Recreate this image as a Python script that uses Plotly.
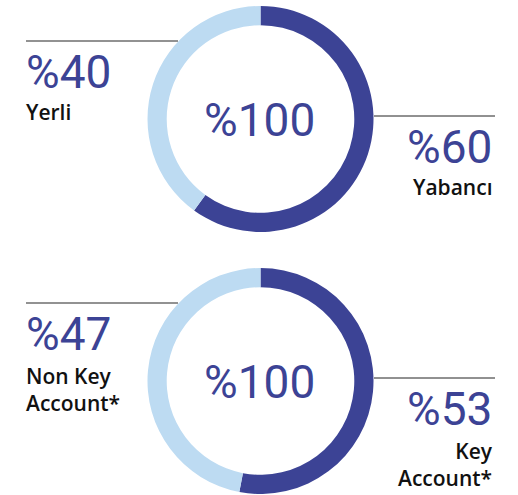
import plotly.graph_objects as go

# Data
top_labels = ["Yabancı", "Yerli"]
top_values = [60, 40]
bottom_labels = ["Key<br>Account*", "Non Key<br>Account*"]
bottom_values = [53, 47]
total_label = "%100"

DARK = "#3c4395"
LIGHT = "#bddbf2"
W, H = 518, 495

NUM_FONT = dict(family="Roboto, sans-serif", color=DARK, size=46)
LBL_FONT = dict(family="Open Sans, sans-serif", color="#111111", size=21, weight=600)


def px(x):
    return x / W


def py(y):
    return 1 - y / H


fig = go.Figure()

fig.add_trace(go.Pie(
    labels=top_labels, values=top_values, hole=0.83, sort=False,
    direction="clockwise", rotation=0, textinfo="none", hoverinfo="label+value",
    marker=dict(colors=[DARK, LIGHT], line=dict(width=0)),
    domain=dict(x=[px(147.5), px(373.5)], y=[py(232), py(6)]),
    showlegend=False,
))
fig.add_trace(go.Pie(
    labels=bottom_labels, values=bottom_values, hole=0.83, sort=False,
    direction="clockwise", rotation=0, textinfo="none", hoverinfo="label+value",
    marker=dict(colors=[DARK, LIGHT], line=dict(width=0)),
    domain=dict(x=[px(147.5), px(373.5)], y=[py(494), py(268)]),
    showlegend=False,
))

shapes = []
for y in (41, 303):
    shapes.append(dict(type="line", xref="paper", yref="paper", x0=px(26), x1=px(178),
                       y0=py(y), y1=py(y), line=dict(color="#6e6e6e", width=1.5)))
for y in (116, 378):
    shapes.append(dict(type="line", xref="paper", yref="paper", x0=px(374), x1=px(495),
                       y0=py(y), y1=py(y), line=dict(color="#222222", width=1)))

ann = []


def add(text, x, y, xanchor, font, align="left"):
    ann.append(dict(text=text, x=px(x), y=py(y), xref="paper", yref="paper",
                    xanchor=xanchor, yanchor="middle", showarrow=False, font=font,
                    align=align))


# centers
add(total_label, 259, 120, "center", NUM_FONT)
add(total_label, 259, 382, "center", NUM_FONT)
# top
add("%" + str(top_values[1]), 24, 72, "left", NUM_FONT)
add(top_labels[1], 24, 112, "left", LBL_FONT)
add("%" + str(top_values[0]), 494, 147, "right", NUM_FONT)
add(top_labels[0], 495, 187, "right", LBL_FONT, "right")
# bottom
add("%" + str(bottom_values[1]), 24, 334, "left", NUM_FONT)
add(bottom_labels[1], 24, 389, "left", LBL_FONT)
add("%" + str(bottom_values[0]), 494, 409, "right", NUM_FONT)
add(bottom_labels[0], 495, 464, "right", LBL_FONT, "right")

fig.update_layout(
    width=W, height=H, margin=dict(l=0, r=0, t=0, b=0),
    paper_bgcolor="white", plot_bgcolor="white",
    shapes=shapes, annotations=ann,
)

fig.write_html("out.html", config={"displayModeBar": False},
               post_script="document.body.style.margin='0';")
